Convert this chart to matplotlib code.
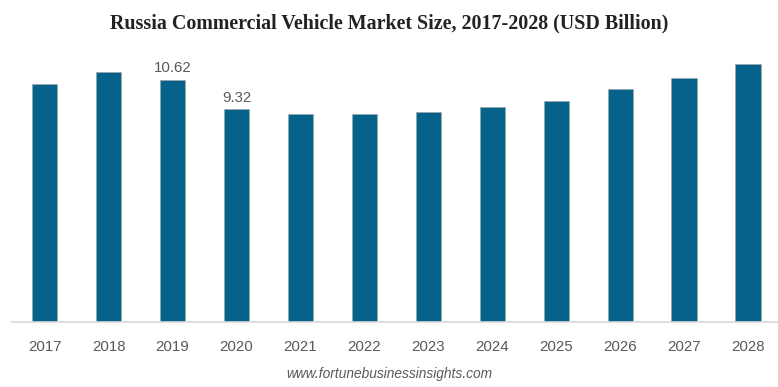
import matplotlib
matplotlib.use("Agg")
import matplotlib.pyplot as plt

years = ["2017", "2018", "2019", "2020", "2021", "2022", "2023", "2024", "2025", "2026", "2027", "2028"]
values = [10.42, 10.97, 10.62, 9.32, 9.14, 9.11, 9.19, 9.44, 9.71, 10.20, 10.71, 11.31]
labeled = {"2019": "10.62", "2020": "9.32"}

title = "Russia Commercial Vehicle Market Size, 2017-2028 (USD Billion)"
source = "www.fortunebusinessinsights.com"

fig = plt.figure(figsize=(7.78, 3.87), dpi=100)
ax = fig.add_axes([0.0154, 0.168, 0.985, 0.707])

x = list(range(len(years)))
ax.bar(x, values, width=0.40, color="#06628A", edgecolor="#9aa5ab", linewidth=0.5, zorder=2)

for i, (y, v) in enumerate(zip(years, values)):
    if y in labeled:
        ax.text(i, v + 0.2, labeled[y], ha="center", va="bottom", fontsize=10.8,
                color="#595959", family=["Liberation Sans", "DejaVu Sans"])

ax.set_xlim(-0.51, 11.47)
ax.set_ylim(0, 12)
ax.set_xticks(x)
ax.set_xticklabels(years, fontsize=10.8, color="#595959", family=["Liberation Sans", "DejaVu Sans"])
ax.tick_params(axis="x", length=0, pad=13)
ax.set_yticks([])
for s in ["top", "right", "left"]:
    ax.spines[s].set_visible(False)
ax.spines["bottom"].set_color("#d9d9d9")
ax.spines["bottom"].set_linewidth(1.2)

fig.text(0.5, 0.940, title, ha="center", va="center", fontsize=14.4, fontweight="bold",
         family=["Liberation Serif", "DejaVu Serif"], color="#222222")
fig.text(0.5, 0.033, source, ha="center", va="center", fontsize=9.9, style="italic",
         color="#595959", family=["Liberation Sans Narrow", "Liberation Sans", "DejaVu Sans"])

fig.savefig("out.png", dpi=100)
